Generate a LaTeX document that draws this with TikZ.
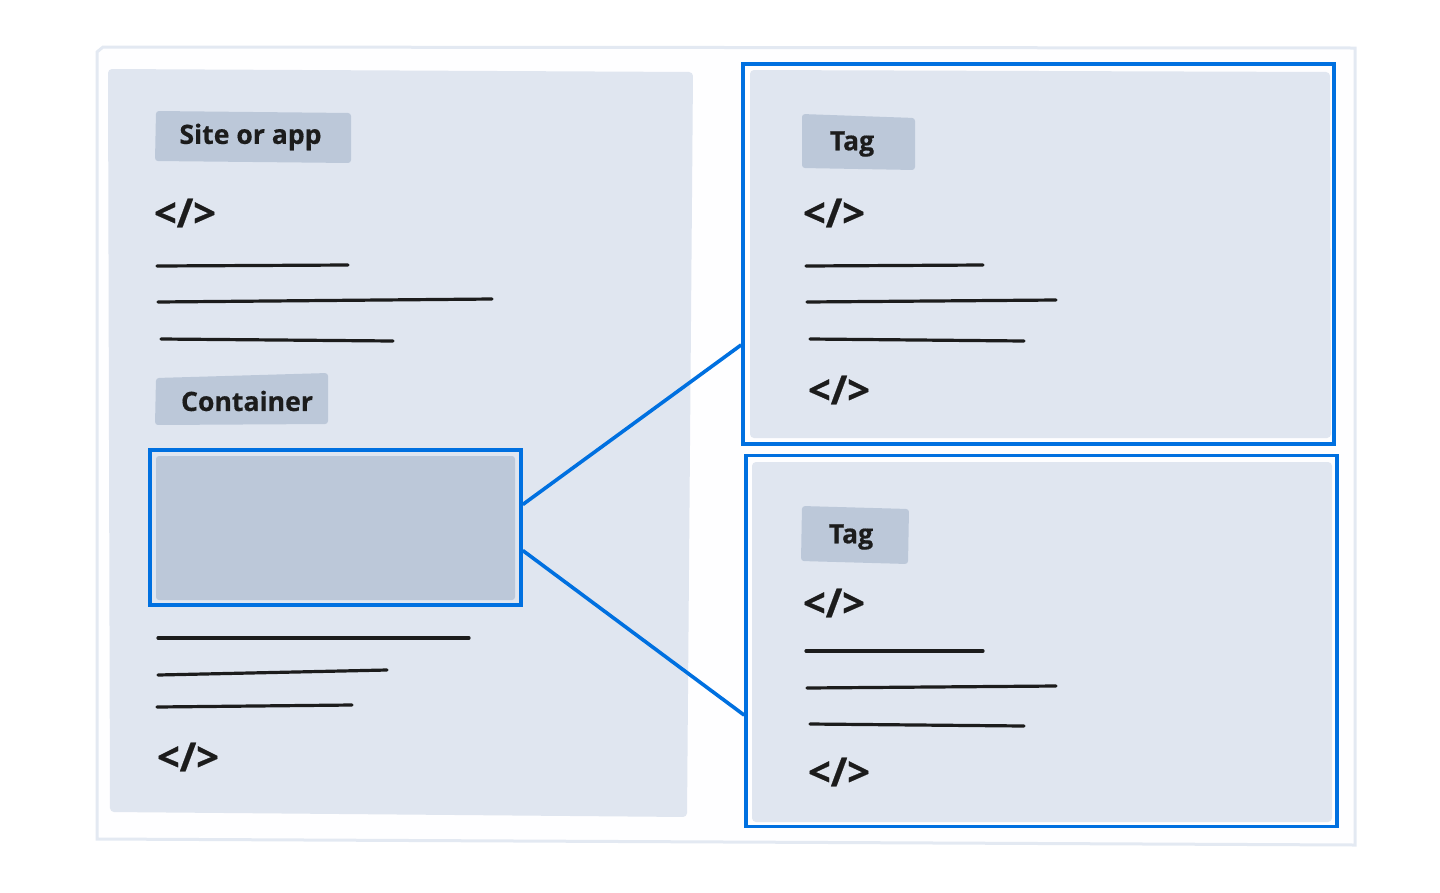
\documentclass[tikz,border=0pt]{standalone}
\usepackage{fontspec}
\setmainfont{Open Sans}[BoldFeatures={FakeBold=0.5}]
\usetikzlibrary{positioning}
\definecolor{cpanel}{HTML}{E0E6F0}
\definecolor{cpill}{HTML}{BCC8D9}
\definecolor{cblue}{HTML}{0070E0}
\definecolor{cink}{HTML}{1C1C1C}
\definecolor{cedge}{HTML}{E3E9F2}
\tikzset{
  every picture/.style={font=\bfseries, line width=1.2pt},
  panel/.style={fill=cpanel, rounded corners=4pt},
  pill/.style={fill=cpill, rounded corners=3pt},
  pilltext/.style={font=\fontsize{26.6}{30}\selectfont\bfseries, text=cink, inner sep=0pt},
  codemark/.style={font=\fontsize{40}{42}\selectfont\bfseries, text=cink, inner sep=0pt},
  rule/.style={draw=cink, line width=3.2pt, line cap=round},
  frame/.style={draw=cblue, line width=3.6pt, minimum width=#1, inner sep=0pt},
  link/.style={draw=cblue, line width=3.6pt},
}

\begin{document}
\begin{tikzpicture}[x=1pt, y=-1pt]
  \useasboundingbox (0,0) rectangle (1440,892);
  % outer sheet
  \draw[cedge, fill=white!60!cedge!8, line width=3pt] (97,52) -- (103,47) -- (1355,48) -- (1355,845) -- (97,839) -- cycle;
  % panels
  \fill[panel] (108,69) -- (693,72) -- (687,817) -- (110,812) -- cycle;
  \fill[panel] (750,70) -- (1330,72) -- (1331,438) -- (750,438) -- cycle;
  \fill[panel] (752,462) -- (1332,462) -- (1332,822) -- (752,822) -- cycle;
  % labels
  \fill[pill] (156,111) -- (351,113) -- (351,163) -- (155,161) -- cycle;
  \node[pilltext] (site) at (250.5,137) {Site or app};
  \fill[pill] (156,378) -- (328,373) -- (328,424) -- (155,425) -- cycle;
  \node[pilltext] (container) at (247,401) {Container};
  \fill[pill] (802,114) -- (915,118) -- (915,170) -- (802,168) -- cycle;
  \node[pilltext] (tagone) at (852,144) {Tag};
  \fill[pill] (802,506) -- (909,509) -- (908,564) -- (801,561) -- cycle;
  \node[pilltext] (tagtwo) at (851,537) {Tag};
  % code marks
  \node[codemark] (codea) at (185,213) {</>};
  \node[codemark] (codeb) at (188,757) {</>};
  \node[codemark] (codec) at (834,213) {</>};
  \node[codemark] (coded) at (839,390) {</>};
  \node[codemark] (codee) at (834,603) {</>};
  \node[codemark] (codef) at (839,772) {</>};
  % text lines
  \draw[rule] (157,266) -- (348,265);
  \draw[rule] (158,302) -- (492,299);
  \draw[rule] (161,339) -- (393,341);
  \draw[rule] (158,638) -- (469,638);
  \draw[rule] (158,675) -- (387,670);
  \draw[rule] (157,707) -- (352,705);
  \draw[rule] (806,266) -- (983,265);
  \draw[rule] (807,302) -- (1056,300);
  \draw[rule] (810,339) -- (1024,341);
  \draw[rule] (806,651) -- (983,651);
  \draw[rule] (807,688) -- (1056,686);
  \draw[rule] (810,724) -- (1024,726);
  % container slot
  \fill[pill] (156,456) rectangle (515,600);
  \node[frame=371pt, minimum height=155pt] (slot) at (335.5,527.5) {};
  % tag frames
  \node[frame=591pt, minimum height=380pt] (frameone) at (1038.5,254) {};
  \node[frame=591pt, minimum height=371pt] (frametwo) at (1041.5,641) {};
  % links
  \draw[link] (slot.7.2) -- (frameone.197.3);
  \draw[link] (slot.-7.2) -- (frametwo.194.6);
\end{tikzpicture}
\end{document}
